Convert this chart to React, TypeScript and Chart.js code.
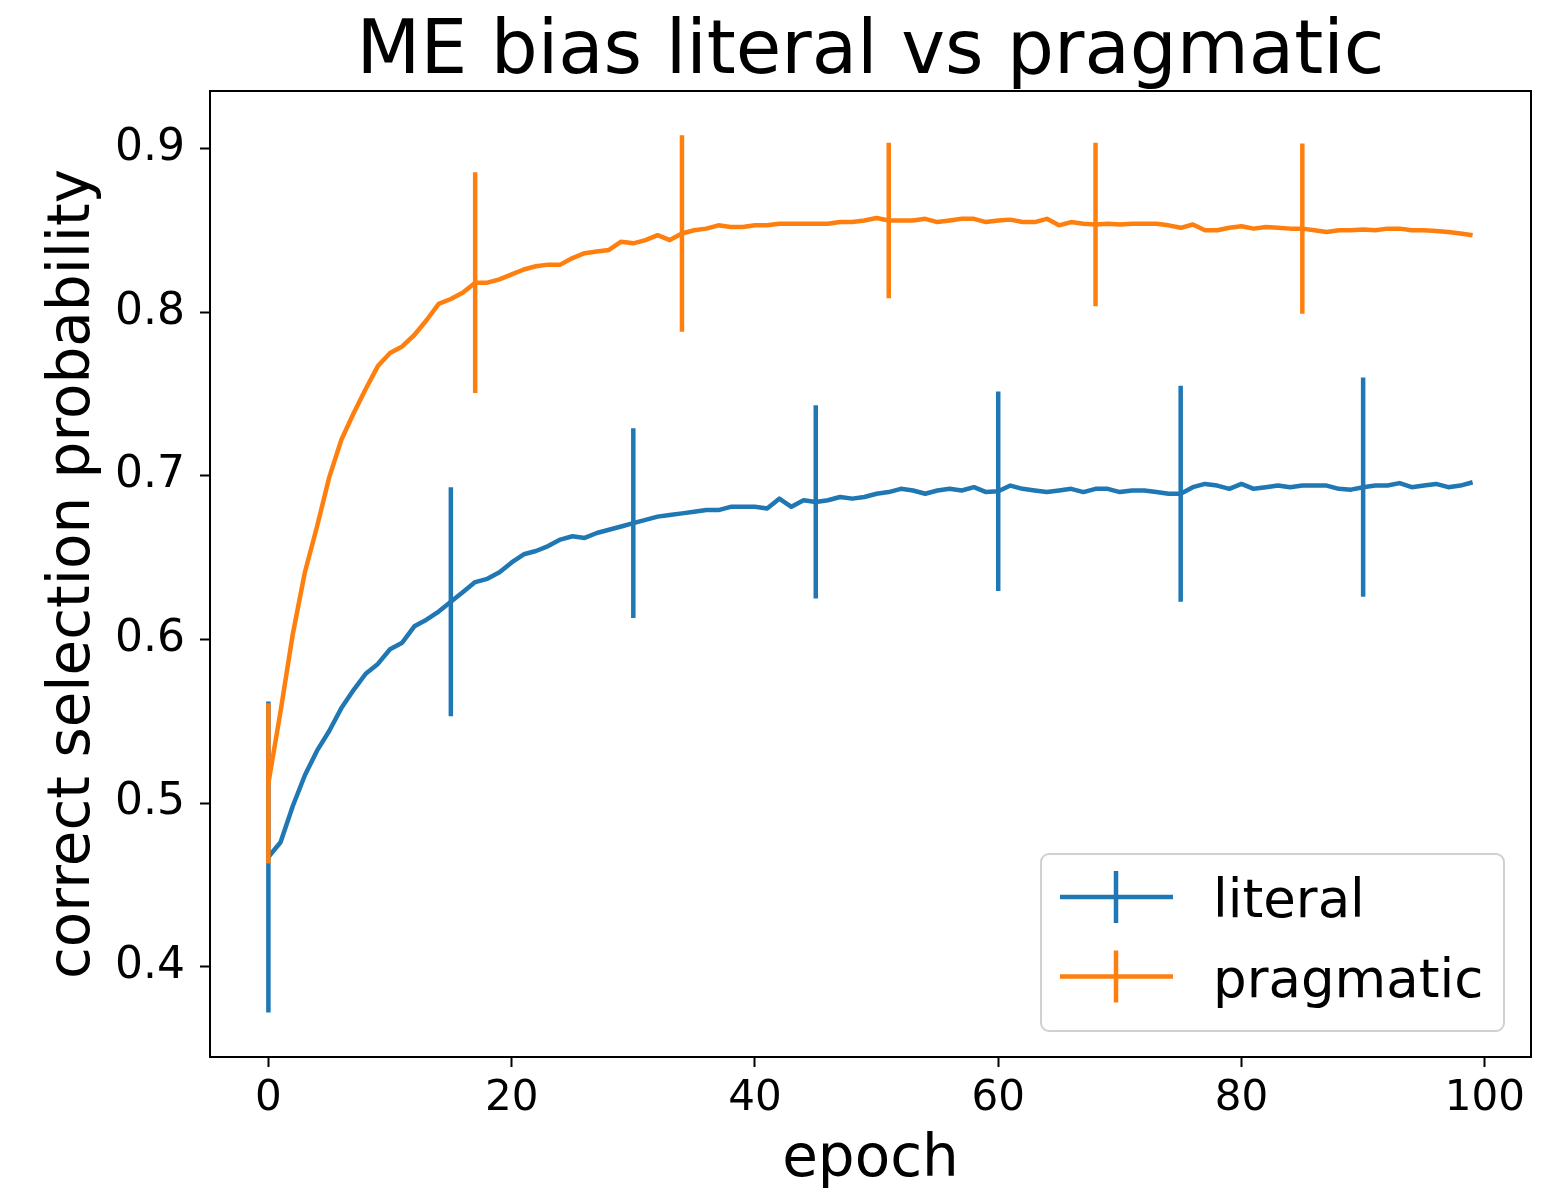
import React, { useEffect, useRef } from 'react';
import { Chart, registerables } from 'chart.js';

Chart.register(...registerables);

// ---------- data ----------
const TITLE = 'ME bias literal vs pragmatic';
const X_LABEL = 'epoch';
const Y_LABEL = 'correct selection probability';
const seriesNames = ['literal', 'pragmatic'];

const epochs = Array.from({ length: 100 }, (_, i) => i);

const literal = [
  0.467, 0.476, 0.498, 0.517, 0.532, 0.544, 0.558, 0.569, 0.579, 0.585,
  0.594, 0.598, 0.608, 0.612, 0.617, 0.623, 0.629, 0.635, 0.637, 0.641,
  0.647, 0.652, 0.654, 0.657, 0.661, 0.663, 0.662, 0.665, 0.667, 0.669,
  0.671, 0.673, 0.675, 0.676, 0.677, 0.678, 0.679, 0.679, 0.681, 0.681,
  0.681, 0.680, 0.686, 0.681, 0.685, 0.684, 0.685, 0.687, 0.686, 0.687,
  0.689, 0.690, 0.692, 0.691, 0.689, 0.691, 0.692, 0.691, 0.693, 0.690,
  0.6905, 0.694, 0.692, 0.691, 0.690, 0.691, 0.692, 0.690, 0.692, 0.692,
  0.690, 0.691, 0.691, 0.690, 0.689, 0.689, 0.693, 0.695, 0.694, 0.692,
  0.695, 0.692, 0.693, 0.694, 0.693, 0.694, 0.694, 0.694, 0.692, 0.6915,
  0.693, 0.694, 0.694, 0.6955, 0.693, 0.694, 0.695, 0.693, 0.694, 0.696,
];

const pragmatic = [
  0.512, 0.556, 0.603, 0.641, 0.669, 0.699, 0.722, 0.738, 0.753, 0.767,
  0.775, 0.779, 0.786, 0.795, 0.805, 0.808, 0.812, 0.818, 0.818, 0.820,
  0.823, 0.826, 0.828, 0.829, 0.829, 0.833, 0.836, 0.837, 0.838, 0.843,
  0.842, 0.844, 0.847, 0.844, 0.848, 0.850, 0.851, 0.853, 0.852, 0.852,
  0.853, 0.853, 0.854, 0.854, 0.854, 0.854, 0.854, 0.855, 0.855, 0.856,
  0.8575, 0.856, 0.856, 0.856, 0.857, 0.855, 0.856, 0.857, 0.857, 0.855,
  0.856, 0.8565, 0.855, 0.855, 0.857, 0.853, 0.855, 0.854, 0.8535, 0.854,
  0.8535, 0.854, 0.854, 0.854, 0.853, 0.8515, 0.8535, 0.850, 0.850, 0.8515,
  0.8525, 0.851, 0.852, 0.8515, 0.851, 0.851, 0.850, 0.849, 0.850, 0.850,
  0.8505, 0.850, 0.851, 0.851, 0.850, 0.850, 0.8496, 0.849, 0.848, 0.847,
];

const literalErrEpochs = [0, 15, 30, 45, 60, 75, 90];
const literalErr = [0.095, 0.07, 0.058, 0.059, 0.061, 0.066, 0.067];
const pragmaticErrEpochs = [0, 17, 34, 51, 68, 85];
const pragmaticErr = [0.049, 0.0675, 0.06, 0.0475, 0.05, 0.052];

const xTicks = [0, 20, 40, 60, 80, 100];
const yTicks = [0.4, 0.5, 0.6, 0.7, 0.8, 0.9];

const BLUE = '#1f77b4';
const ORANGE = '#ff7f0e';
const FONT = "'DejaVu Sans', 'Liberation Sans', sans-serif";

// ---------- plugins ----------
const bgPlugin = {
  id: 'bg',
  beforeDraw(chart: any) {
    const { ctx, width, height } = chart;
    ctx.save();
    ctx.fillStyle = '#ffffff';
    ctx.fillRect(0, 0, width, height);
    ctx.restore();
  },
};

const errorBarPlugin = {
  id: 'errorBars',
  afterDatasetDraw(chart: any, args: any) {
    const ds: any = chart.data.datasets[args.index];
    if (!ds.errEpochs) return;
    const { ctx, chartArea, scales } = chart;
    const x = scales.x;
    const y = scales.y;
    ctx.save();
    ctx.beginPath();
    ctx.rect(chartArea.left, chartArea.top, chartArea.right - chartArea.left, chartArea.bottom - chartArea.top);
    ctx.clip();
    ctx.strokeStyle = ds.borderColor;
    ctx.lineWidth = ds.borderWidth;
    ctx.lineCap = 'butt';
    ds.errEpochs.forEach((ep: number, i: number) => {
      const v = ds.data[ep].y;
      const e = ds.errValues[i];
      const px = x.getPixelForValue(ep);
      ctx.beginPath();
      ctx.moveTo(px, y.getPixelForValue(v - e));
      ctx.lineTo(px, y.getPixelForValue(v + e));
      ctx.stroke();
    });
    ctx.restore();
  },
};

const framePlugin = {
  id: 'frame',
  afterDraw(chart: any) {
    const { ctx, chartArea } = chart;
    ctx.save();
    ctx.strokeStyle = '#000';
    ctx.lineWidth = 2;
    ctx.beginPath();
    ctx.moveTo(chartArea.left, chartArea.top);
    ctx.lineTo(chartArea.right, chartArea.top);
    ctx.lineTo(chartArea.right, chartArea.bottom);
    ctx.stroke();
    ctx.restore();
  },
};

const titlePlugin = {
  id: 'plotTitle',
  afterDraw(chart: any) {
    const { ctx, chartArea } = chart;
    ctx.save();
    ctx.fillStyle = '#000';
    ctx.font = `74px ${FONT}`;
    ctx.textAlign = 'center';
    ctx.textBaseline = 'alphabetic';
    ctx.fillText(TITLE, (chartArea.left + chartArea.right) / 2, 73);
    ctx.restore();
  },
};

const legendPlugin = {
  id: 'boxLegend',
  afterDraw(chart: any) {
    const { ctx, chartArea } = chart;
    const right = chartArea.right - 27;
    const bottom = chartArea.bottom - 26;
    const w = 463;
    const h = 177;
    const left = right - w;
    const top = bottom - h;
    ctx.save();
    ctx.beginPath();
    if (ctx.roundRect) ctx.roundRect(left, top, w, h, 8);
    else ctx.rect(left, top, w, h);
    ctx.fillStyle = 'rgba(255,255,255,0.8)';
    ctx.fill();
    ctx.strokeStyle = '#d0d0d0';
    ctx.lineWidth = 2;
    ctx.stroke();
    chart.data.datasets.forEach((ds: any, i: number) => {
      const yy = top + 43 + i * 79.5;
      ctx.strokeStyle = ds.borderColor;
      ctx.lineWidth = ds.borderWidth;
      ctx.lineCap = 'butt';
      ctx.beginPath();
      ctx.moveTo(left + 19, yy);
      ctx.lineTo(left + 132, yy);
      ctx.stroke();
      ctx.beginPath();
      ctx.moveTo(left + 75, yy - 26);
      ctx.lineTo(left + 75, yy + 26);
      ctx.stroke();
      ctx.fillStyle = '#000';
      ctx.font = `53px ${FONT}`;
      ctx.textAlign = 'left';
      ctx.textBaseline = 'alphabetic';
      ctx.fillText(ds.label, left + 172, yy + 20);
    });
    ctx.restore();
  },
};

// ---------- component ----------
export default function App() {
  const ref = useRef<HTMLCanvasElement>(null);

  useEffect(() => {
    document.body.style.margin = '0';
    const canvas = ref.current!;
    const chart = new Chart(canvas, {
      type: 'line',
      data: {
        datasets: [
          {
            label: seriesNames[0],
            data: epochs.map((e, i) => ({ x: e, y: literal[i] })),
            borderColor: BLUE,
            backgroundColor: BLUE,
            borderWidth: 4.5,
            pointRadius: 0,
            tension: 0,
            borderJoinStyle: 'round',
            order: 1,
            errEpochs: literalErrEpochs,
            errValues: literalErr,
          } as any,
          {
            label: seriesNames[1],
            data: epochs.map((e, i) => ({ x: e, y: pragmatic[i] })),
            borderColor: ORANGE,
            backgroundColor: ORANGE,
            borderWidth: 4.5,
            pointRadius: 0,
            tension: 0,
            borderJoinStyle: 'round',
            order: 0,
            errEpochs: pragmaticErrEpochs,
            errValues: pragmaticErr,
          } as any,
        ],
      },
      options: {
        responsive: false,
        animation: false,
        devicePixelRatio: 1,
        layout: { padding: { top: 91, right: 22, bottom: 0, left: 0 } },
        plugins: {
          legend: { display: false },
          title: { display: false },
          tooltip: { enabled: false },
        },
        scales: {
          x: {
            type: 'linear',
            min: -4.8,
            max: 103.8,
            afterFit: (s: any) => { s.height = 133; },
            afterBuildTicks: (s: any) => { s.ticks = xTicks.map((v) => ({ value: v })); },
            border: { display: true, color: '#000', width: 2 },
            grid: { display: true, drawOnChartArea: false, drawTicks: true, tickLength: 10, tickWidth: 2, tickColor: '#000' },
            ticks: {
              autoSkip: false,
              maxRotation: 0,
              padding: 7,
              color: '#000',
              font: { family: FONT, size: 42 },
              callback: (v: any) => String(v),
            },
            title: {
              display: true,
              text: X_LABEL,
              color: '#000',
              font: { family: FONT, size: 58, lineHeight: 1.0 },
              padding: { top: 0, bottom: 0 },
            },
          },
          y: {
            type: 'linear',
            min: 0.3448,
            max: 0.9351,
            afterFit: (s: any) => { s.width = 210; },
            afterBuildTicks: (s: any) => { s.ticks = yTicks.map((v) => ({ value: v })); },
            border: { display: true, color: '#000', width: 2 },
            grid: { display: true, drawOnChartArea: false, drawTicks: true, tickLength: 10, tickWidth: 2, tickColor: '#000' },
            ticks: {
              padding: 15,
              color: '#000',
              font: { family: FONT, size: 44 },
              callback: (v: any) => Number(v).toFixed(1),
            },
            title: {
              display: true,
              text: Y_LABEL,
              color: '#000',
              font: { family: FONT, size: 58, lineHeight: 1.2 },
              padding: { top: 39, bottom: 0 },
            },
          },
        },
      } as any,
      plugins: [bgPlugin, errorBarPlugin, framePlugin, titlePlugin, legendPlugin],
    });
    return () => chart.destroy();
  }, []);

  return (
    <div style={{ width: 1553, height: 1190 }}>
      <canvas ref={ref} width={1553} height={1190} style={{ display: 'block' }} />
    </div>
  );
}
